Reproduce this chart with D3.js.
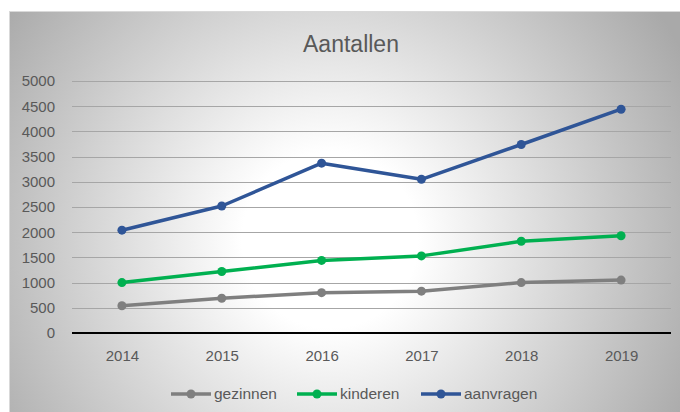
<!DOCTYPE html>
<html>
<head>
<meta charset="utf-8">
<script src="https://cdn.jsdelivr.net/npm/d3@7"></script>
<style>
  body { margin: 0; background: #ffffff; }
  text { font-family: "Liberation Sans", Arial, sans-serif; }
</style>
</head>
<body>
<svg id="chart"></svg>
<script>
const width = 680;
const height = 412;

// data
const years = ["2014", "2015", "2016", "2017", "2018", "2019"];
const gezinnen = [540, 690, 800, 830, 1000, 1050];
const kinderen = [1000, 1220, 1440, 1530, 1820, 1930];
const aanvragen = [2040, 2520, 3370, 3050, 3740, 4440];
const yTicks = [0, 500, 1000, 1500, 2000, 2500, 3000, 3500, 4000, 4500, 5000];
const seriesNames = ["gezinnen", "kinderen", "aanvragen"];
const seriesColors = ["#7f7f7f", "#00b050", "#2f5597"];

const series = [gezinnen, kinderen, aanvragen].map((vals, i) => ({
    name: seriesNames[i],
    color: seriesColors[i],
    values: vals.map((v, j) => ({ year: years[j], value: v }))
}));

const svg = d3.select("#chart").attr("width", width).attr("height", height);

// radial gray background
const defs = svg.append("defs");
const grad = defs.append("radialGradient").attr("id", "bg")
    .attr("gradientUnits", "userSpaceOnUse")
    .attr("cx", 330).attr("cy", 240).attr("r", 400);
grad.append("stop").attr("offset", "0.22").attr("stop-color", "#ffffff");
grad.append("stop").attr("offset", "1").attr("stop-color", "#a9a9a9");

svg.append("rect").attr("x", 9.5).attr("y", 11.5).attr("width", 680).attr("height", 410)
    .attr("fill", "url(#bg)").attr("stroke", "#d9d9d9").attr("stroke-width", 1);

const plot = { left: 72, right: 671, top: 81, bottom: 333 };

const x = d3.scalePoint().domain(years).range([plot.left, plot.right]).padding(0.5);
const y = d3.scaleLinear().domain([0, 5000]).range([plot.bottom, plot.top]);

// title
svg.append("text").attr("x", 351).attr("y", 52).attr("text-anchor", "middle")
    .attr("font-size", 23).attr("fill", "#595959").text("Aantallen");

// gridlines
svg.append("g").selectAll("line").data(yTicks.filter(d => d > 0)).enter().append("line")
    .attr("x1", plot.left).attr("x2", plot.right)
    .attr("y1", d => Math.round(y(d)) + 0.5).attr("y2", d => Math.round(y(d)) + 0.5)
    .attr("stroke", "#a6a6a6").attr("stroke-width", 1);

// y axis labels
const yAxis = d3.axisLeft(y).tickValues(yTicks).tickFormat(d3.format("d")).tickSize(0).tickPadding(0);
const gy = svg.append("g").attr("transform", "translate(55,0)").call(yAxis);
gy.select(".domain").remove();
gy.selectAll("text").attr("font-size", 15).attr("fill", "#595959")
    .attr("font-family", "Liberation Sans, Arial, sans-serif");

// x axis
const xAxis = d3.axisBottom(x).tickSize(0).tickPadding(17);
const gx = svg.append("g").attr("transform", "translate(0," + plot.bottom + ")").call(xAxis);
gx.select(".domain").remove();
gx.selectAll("text").attr("font-size", 15).attr("fill", "#595959")
    .attr("font-family", "Liberation Sans, Arial, sans-serif");
svg.append("line").attr("x1", plot.left).attr("x2", plot.right)
    .attr("y1", plot.bottom).attr("y2", plot.bottom)
    .attr("stroke", "#000000").attr("stroke-width", 2);

// lines
const line = d3.line().x(d => x(d.year)).y(d => y(d.value));
const sg = svg.append("g").selectAll("g").data(series).enter().append("g");
sg.append("path").attr("d", d => line(d.values)).attr("fill", "none")
    .attr("stroke", d => d.color).attr("stroke-width", 3.5).attr("stroke-linejoin", "round");
sg.selectAll("circle").data(d => d.values.map(v => ({ ...v, color: d.color }))).enter()
    .append("circle").attr("cx", d => x(d.year)).attr("cy", d => y(d.value)).attr("r", 4.5)
    .attr("fill", d => d.color);

// legend
const legendX = [171, 297, 421];
const lg = svg.append("g").selectAll("g").data(series).enter().append("g")
    .attr("transform", (d, i) => "translate(" + legendX[i] + ",394)");
lg.append("line").attr("x1", 0).attr("x2", 40).attr("y1", 0).attr("y2", 0)
    .attr("stroke", d => d.color).attr("stroke-width", 3.5);
lg.append("circle").attr("cx", 20).attr("cy", 0).attr("r", 4.5).attr("fill", d => d.color);
lg.append("text").attr("x", 43).attr("y", 5).attr("font-size", 15.5).attr("fill", "#595959")
    .text(d => d.name);
</script>
</body>
</html>
